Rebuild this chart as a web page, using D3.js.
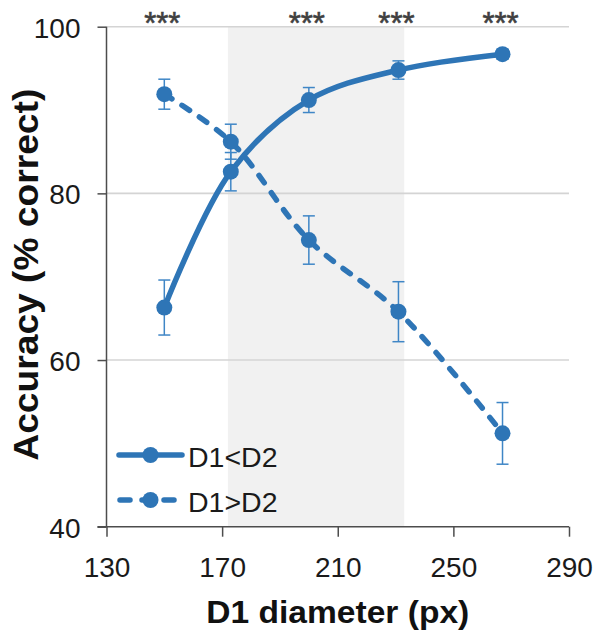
<!DOCTYPE html>
<html>
<head>
<meta charset="utf-8">
<script src="https://cdn.jsdelivr.net/npm/d3@7/dist/d3.min.js"></script>
<style>
  html, body { margin: 0; padding: 0; background: #fff; }
  svg { display: block; font-family: "Liberation Sans", Arial, sans-serif; }
</style>
</head>
<body>
<svg id="chart" width="596" height="635"></svg>
<script>
// D1 diameter (px) for each condition
const diameters = [150, 173, 200, 231, 267];
// Accuracy (% correct) when D1 < D2, with error bar half-lengths
const lessAcc = [66.3, 82.6, 91.2, 94.8, 96.7];
const lessErr = [3.3, 2.3, 1.5, 1.1, 0.6];
// Accuracy (% correct) when D1 > D2, with error bar half-lengths
const greaterAcc = [91.9, 86.2, 74.4, 65.8, 51.2];
const greaterErr = [1.8, 2.1, 2.9, 3.6, 3.7];
// Significance markers above each diameter
const sigLabels = ["***", "", "***", "***", "***"];
// Axis ticks
const xTicks = [130, 170, 210, 250, 290];
const yTicks = [40, 60, 80, 100];
// Shaded diameter band
const bandRange = [172, 233];
const seriesNames = ["D1<D2", "D1>D2"];

const blue = "#2e75b6";
const errBlue = "#3f86c6";
const axisGray = "#4d4d4d";

const svg = d3.select("#chart");
const x = d3.scaleLinear().domain([130, 290]).range([106.5, 569]);
const y = d3.scaleLinear().domain([40, 100]).range([526.7, 26.7]);

// shaded band
svg.append("rect")
  .attr("x", x(bandRange[0]))
  .attr("y", y(100))
  .attr("width", x(bandRange[1]) - x(bandRange[0]))
  .attr("height", y(40) - y(100))
  .attr("fill", "#f1f1f1");

// horizontal gridlines
svg.append("g").selectAll("line")
  .data(yTicks.filter(d => d > 40))
  .join("line")
  .attr("x1", x(130)).attr("x2", x(290))
  .attr("y1", d => y(d)).attr("y2", d => y(d))
  .attr("stroke", "#d4d4d4").attr("stroke-width", 1.6);

// y axis
const yAxis = svg.append("g")
  .attr("transform", `translate(${x(130)},0)`)
  .call(d3.axisLeft(y).tickValues(yTicks).tickSize(9).tickPadding(17).tickFormat(d3.format("d")));
yAxis.select(".domain").attr("stroke", axisGray).attr("stroke-width", 1.5)
  .attr("d", `M0,${y(100)}V${y(40)}`);
yAxis.selectAll(".tick line").attr("stroke", axisGray).attr("stroke-width", 1.5);
yAxis.selectAll(".tick text")
  .attr("font-size", 28).attr("fill", "#1a1a1a")
  .attr("font-family", "Liberation Sans, Arial, sans-serif")
  .attr("dy", "0.37em");

// x axis
const xAxis = svg.append("g")
  .attr("transform", `translate(0,${y(40)})`)
  .call(d3.axisBottom(x).tickValues(xTicks).tickSize(10).tickPadding(20).tickFormat(d3.format("d")));
xAxis.select(".domain").attr("stroke", axisGray).attr("stroke-width", 1.5)
  .attr("d", `M${x(130) - 9},0H${x(290)}`);
xAxis.selectAll(".tick line").attr("stroke", axisGray).attr("stroke-width", 1.5);
xAxis.selectAll(".tick text")
  .attr("font-size", 28).attr("fill", "#1a1a1a")
  .attr("font-family", "Liberation Sans, Arial, sans-serif")
  .attr("dy", "0.71em");

// series data
const series = [
  { name: seriesNames[0], vals: lessAcc, errs: lessErr, dash: null },
  { name: seriesNames[1], vals: greaterAcc, errs: greaterErr, dash: "9,12" }
];

// error bars
series.forEach(s => {
  const g = svg.append("g").attr("stroke", errBlue).attr("stroke-width", 1.5);
  diameters.forEach((d, i) => {
    const cx = x(d), top = y(s.vals[i] + s.errs[i]), bot = y(s.vals[i] - s.errs[i]);
    g.append("line").attr("x1", cx).attr("x2", cx).attr("y1", top).attr("y2", bot);
    g.append("line").attr("x1", cx - 6).attr("x2", cx + 6).attr("y1", top).attr("y2", top);
    g.append("line").attr("x1", cx - 6).attr("x2", cx + 6).attr("y1", bot).attr("y2", bot);
  });
});

// smoothed lines
const line = d3.line()
  .x(d => x(d[0])).y(d => y(d[1]))
  .curve(d3.curveCatmullRom.alpha(0.5));

series.forEach(s => {
  const pts = diameters.map((d, i) => [d, s.vals[i]]);
  svg.append("path")
    .attr("d", line(pts))
    .attr("fill", "none")
    .attr("stroke", blue)
    .attr("stroke-width", 5.5)
    .attr("stroke-linecap", "round")
    .attr("stroke-dasharray", s.dash);
  svg.append("g").selectAll("circle")
    .data(pts)
    .join("circle")
    .attr("cx", d => x(d[0])).attr("cy", d => y(d[1]))
    .attr("r", 8)
    .attr("fill", blue);
});

// significance markers
svg.append("g").selectAll("text")
  .data(diameters.map((d, i) => [d, sigLabels[i]]).filter(d => d[1]))
  .join("text")
  .attr("x", d => x(d[0]) - 2)
  .attr("y", 34)
  .attr("text-anchor", "middle")
  .attr("font-size", 31)
  .attr("fill", "#404040")
  .attr("stroke", "#404040")
  .attr("stroke-width", 0.6)
  .text(d => d[1]);

// legend
const legend = svg.append("g");
series.forEach((s, i) => {
  const ly = 455 + i * 45;
  legend.append("line")
    .attr("x1", 119).attr("x2", 182).attr("y1", ly).attr("y2", ly)
    .attr("stroke", blue).attr("stroke-width", 5.5)
    .attr("stroke-linecap", "round")
    .attr("stroke-dasharray", s.dash ? "10,12" : null)
    .attr("stroke-dashoffset", s.dash ? -1 : null);
  legend.append("circle").attr("cx", 150.5).attr("cy", ly).attr("r", 8).attr("fill", blue);
  legend.append("text")
    .attr("x", 188).attr("y", ly + 11.5)
    .attr("font-size", 28.5).attr("fill", "#1a1a1a")
    .text(s.name);
});

// axis titles
svg.append("text")
  .attr("x", (x(130) + x(290)) / 2).attr("y", 622.5)
  .attr("text-anchor", "middle")
  .attr("font-size", 32).attr("font-weight", "bold").attr("fill", "#111")
  .attr("textLength", 263).attr("lengthAdjust", "spacingAndGlyphs")
  .text("D1 diameter (px)");

svg.append("text")
  .attr("transform", `translate(37.5,${(y(40) + y(100)) / 2 - 2}) rotate(-90)`)
  .attr("text-anchor", "middle")
  .attr("font-size", 35).attr("font-weight", "bold").attr("fill", "#111")
  .attr("textLength", 372).attr("lengthAdjust", "spacingAndGlyphs")
  .text("Accuracy (% correct)");
</script>
</body>
</html>
